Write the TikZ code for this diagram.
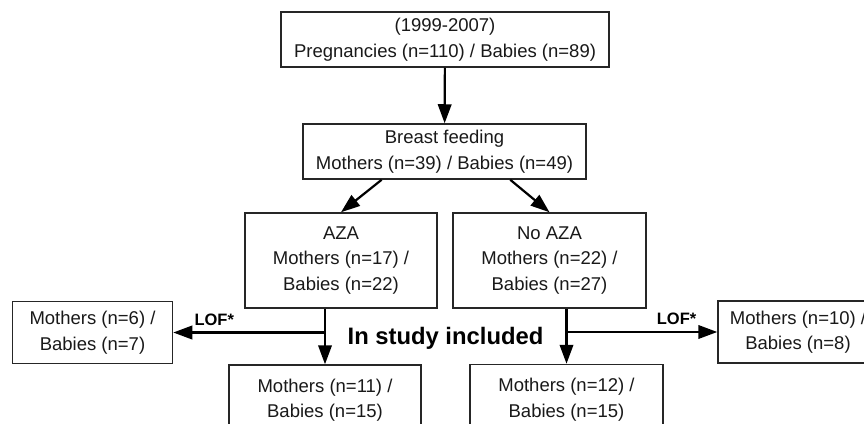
\documentclass[tikz,border=0pt]{standalone}
\usepackage{fontspec}
\setmainfont{Liberation Sans}
\usetikzlibrary{arrows.meta,calc}
\begin{document}
\begin{tikzpicture}[x=1pt,y=-1pt,
  box/.style={draw=black!85,line width=1.5pt,align=center,inner sep=0pt,
    font=\fontsize{18.5}{25.5}\selectfont,text=black!90},
  conn/.style={line width=2.2pt,-{Triangle[length=19pt,width=13.5pt]}},
  loflabel/.style={font=\bfseries\fontsize{16.5}{20}\selectfont,inner sep=0pt}]
\useasboundingbox (0,0) rectangle (864,423);
\clip (0,0) rectangle (864,423);
\fill[white] (0,0) rectangle (864,423);
\node[box,minimum width=328pt,minimum height=55pt] (top) at (445,39.5)
  {(1999-2007)\\Pregnancies (n=110) / Babies (n=89)};
\node[box,minimum width=283pt,minimum height=55pt] (bf) at (444.5,151.5)
  {Breast feeding\\Mothers (n=39) / Babies (n=49)};
\node[box,minimum width=192pt,minimum height=95pt] (aza) at (341,260.5)
  {AZA\\Mothers (n=17) /\\Babies (n=22)};
\node[box,minimum width=193pt,minimum height=95pt] (noaza) at (549.5,260.5)
  {No AZA\\Mothers (n=22) /\\Babies (n=27)};
\node[box,minimum width=160pt,minimum height=62pt] (lofL) at (92.5,332.5)
  {Mothers (n=6) /\\Babies (n=7)};
\node[box,minimum width=160pt,minimum height=62pt] (lofR) at (798,332)
  {Mothers (n=10) /\\Babies (n=8)};
\node[box,minimum width=192pt,minimum height=70pt] (botL) at (325,400)
  {Mothers (n=11) /\\Babies (n=15)};
\node[box,minimum width=193pt,minimum height=70pt] (botR) at (566.5,399.5)
  {Mothers (n=12) /\\Babies (n=15)};
\node[font=\bfseries\fontsize{23.8}{26}\selectfont,inner sep=0pt] (incl) at (445.5,338)
  {In study included};
\draw[conn] (top) -- (bf);
\draw[conn] ($(bf.south west)!0.279!(bf.south east)$) -- (aza.north);
\draw[conn] ($(bf.south west)!0.731!(bf.south east)$) -- (noaza.north);
\draw[conn] (botL.north |- aza.south) -- (botL.north);
\draw[conn] (botR.north |- noaza.south) -- (botR.north);
\coordinate (jL) at (botL.north |- lofL.east);
\coordinate (jR) at (botR.north |- lofR.west);
\draw[conn] (jL) -- node[loflabel,pos=0.73,above=6pt] (lofLl) {LOF*} (lofL.east);
\draw[conn] (jR) -- node[loflabel,pos=0.73,above=6pt] (lofRl) {LOF*} (lofR.west);
\end{tikzpicture}
\end{document}
